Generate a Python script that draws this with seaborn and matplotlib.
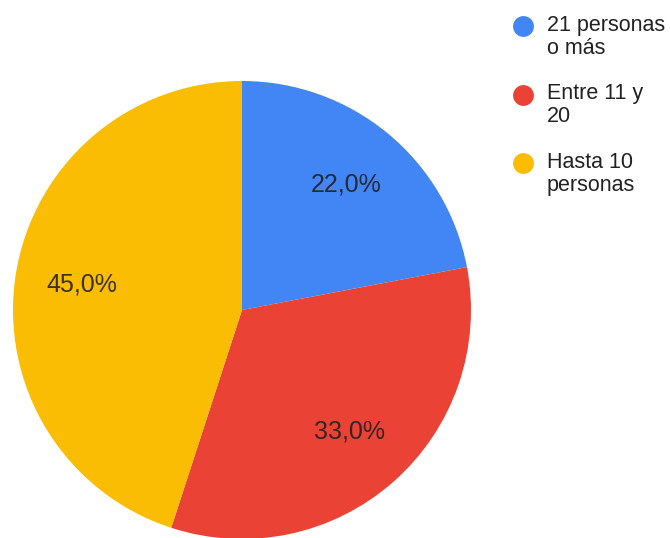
import matplotlib
matplotlib.use("Agg")
import matplotlib.pyplot as plt
import seaborn as sns
from matplotlib.lines import Line2D

categories = ["21 personas\no más", "Entre 11 y\n20", "Hasta 10\npersonas"]
values = [22.0, 33.0, 45.0]
colors = ["#4285F4", "#EA4335", "#FBBC04"]

sns.set_theme(style="white")
plt.rcParams['font.family'] = ['Liberation Sans', 'DejaVu Sans']

W, H = 670, 538
fig = plt.figure(figsize=(W / 100, H / 100), dpi=100)
ax = fig.add_axes([13 / W, -1 / H, 458 / W, 458 / H])

wedges, texts, autotexts = ax.pie(
    values, colors=colors, startangle=90, counterclock=False,
    autopct=lambda p: f"{p:.1f}%".replace('.', ','), pctdistance=0.71,
    wedgeprops=dict(linewidth=0),
    textprops=dict(fontsize=18, color="#1f1f1f", alpha=0.88))
ax.set_aspect('equal')
ax.set_xlim(-1, 1)
ax.set_ylim(-1, 1)

# legend (manual, Google-Charts style: marker aligned with first line)
y0, step = 26, 68.5
for i, (lab, c) in enumerate(zip(categories, colors)):
    yc = y0 + i * step
    fig.add_artist(Line2D([523 / W], [1 - yc / H], marker='o', linestyle='',
                          markersize=15, markerfacecolor=c, markeredgewidth=0,
                          transform=fig.transFigure))
    fig.text(547 / W, 1 - (yc - 11) / H, lab, ha='left', va='top',
             fontsize=15.5, color="#222222", linespacing=1.12)

fig.savefig("out.png", dpi=100)
